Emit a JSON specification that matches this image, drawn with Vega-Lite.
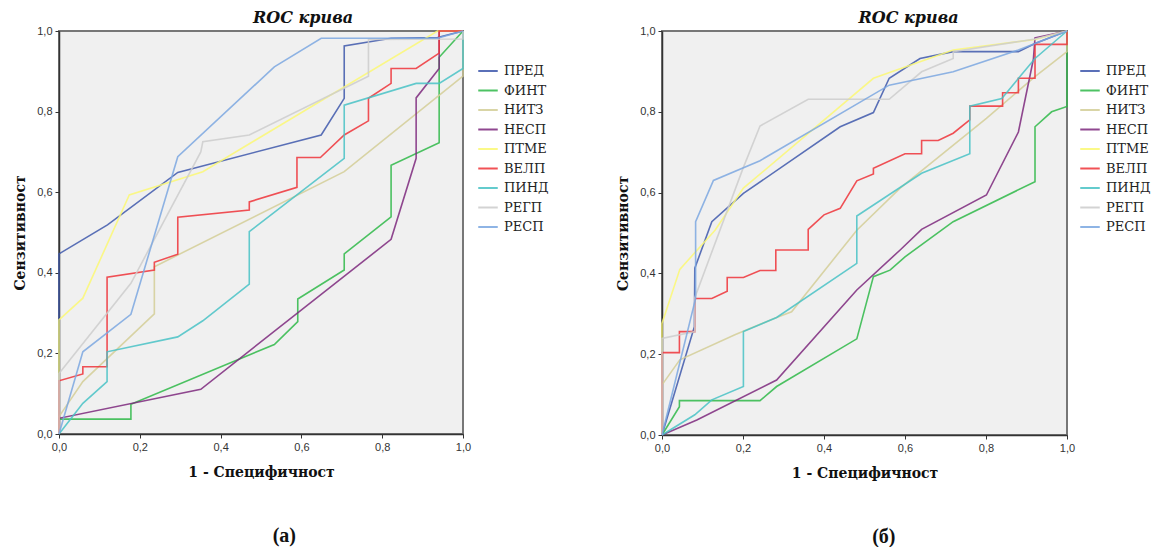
{
  "$schema": "https://vega.github.io/schema/vega-lite/v6.json",
  "padding": {"left": 12, "top": 9, "right": 0, "bottom": 0},
  "datasets": {
    "a": [
      {"s": "ПРЕД", "x": 0, "y": 0}, {"s": "ПРЕД", "x": 0, "y": 0.447}, {"s": "ПРЕД", "x": 0.12, "y": 0.519}, {"s": "ПРЕД", "x": 0.294, "y": 0.649}, {"s": "ПРЕД", "x": 0.649, "y": 0.742}, {"s": "ПРЕД", "x": 0.706, "y": 0.833}, {"s": "ПРЕД", "x": 0.706, "y": 0.963}, {"s": "ПРЕД", "x": 0.822, "y": 0.982}, {"s": "ПРЕД", "x": 0.937, "y": 0.984}, {"s": "ПРЕД", "x": 1, "y": 1},
      {"s": "ФИНТ", "x": 0, "y": 0}, {"s": "ФИНТ", "x": 0, "y": 0.037}, {"s": "ФИНТ", "x": 0.178, "y": 0.037}, {"s": "ФИНТ", "x": 0.178, "y": 0.074}, {"s": "ФИНТ", "x": 0.533, "y": 0.222}, {"s": "ФИНТ", "x": 0.591, "y": 0.279}, {"s": "ФИНТ", "x": 0.591, "y": 0.335}, {"s": "ФИНТ", "x": 0.706, "y": 0.407}, {"s": "ФИНТ", "x": 0.706, "y": 0.447}, {"s": "ФИНТ", "x": 0.822, "y": 0.539}, {"s": "ФИНТ", "x": 0.822, "y": 0.667}, {"s": "ФИНТ", "x": 0.941, "y": 0.723}, {"s": "ФИНТ", "x": 0.941, "y": 0.935}, {"s": "ФИНТ", "x": 1, "y": 1},
      {"s": "НИТЗ", "x": 0, "y": 0}, {"s": "НИТЗ", "x": 0, "y": 0.043}, {"s": "НИТЗ", "x": 0.059, "y": 0.13}, {"s": "НИТЗ", "x": 0.236, "y": 0.298}, {"s": "НИТЗ", "x": 0.236, "y": 0.415}, {"s": "НИТЗ", "x": 0.706, "y": 0.651}, {"s": "НИТЗ", "x": 1, "y": 0.888}, {"s": "НИТЗ", "x": 1, "y": 1},
      {"s": "НЕСП", "x": 0, "y": 0}, {"s": "НЕСП", "x": 0, "y": 0.039}, {"s": "НЕСП", "x": 0.351, "y": 0.111}, {"s": "НЕСП", "x": 0.822, "y": 0.483}, {"s": "НЕСП", "x": 0.884, "y": 0.684}, {"s": "НЕСП", "x": 0.884, "y": 0.834}, {"s": "НЕСП", "x": 0.941, "y": 0.907}, {"s": "НЕСП", "x": 0.941, "y": 1}, {"s": "НЕСП", "x": 1, "y": 1},
      {"s": "ПТМЕ", "x": 0, "y": 0}, {"s": "ПТМЕ", "x": 0, "y": 0.283}, {"s": "ПТМЕ", "x": 0.059, "y": 0.337}, {"s": "ПТМЕ", "x": 0.174, "y": 0.593}, {"s": "ПТМЕ", "x": 0.356, "y": 0.651}, {"s": "ПТМЕ", "x": 0.937, "y": 1}, {"s": "ПТМЕ", "x": 1, "y": 1},
      {"s": "ВЕЛП", "x": 0, "y": 0}, {"s": "ВЕЛП", "x": 0, "y": 0.132}, {"s": "ВЕЛП", "x": 0.059, "y": 0.149}, {"s": "ВЕЛП", "x": 0.059, "y": 0.167}, {"s": "ВЕЛП", "x": 0.119, "y": 0.167}, {"s": "ВЕЛП", "x": 0.119, "y": 0.389}, {"s": "ВЕЛП", "x": 0.236, "y": 0.407}, {"s": "ВЕЛП", "x": 0.236, "y": 0.426}, {"s": "ВЕЛП", "x": 0.294, "y": 0.446}, {"s": "ВЕЛП", "x": 0.294, "y": 0.538}, {"s": "ВЕЛП", "x": 0.471, "y": 0.556}, {"s": "ВЕЛП", "x": 0.471, "y": 0.576}, {"s": "ВЕЛП", "x": 0.589, "y": 0.612}, {"s": "ВЕЛП", "x": 0.589, "y": 0.686}, {"s": "ВЕЛП", "x": 0.647, "y": 0.686}, {"s": "ВЕЛП", "x": 0.706, "y": 0.742}, {"s": "ВЕЛП", "x": 0.766, "y": 0.777}, {"s": "ВЕЛП", "x": 0.766, "y": 0.833}, {"s": "ВЕЛП", "x": 0.822, "y": 0.87}, {"s": "ВЕЛП", "x": 0.822, "y": 0.907}, {"s": "ВЕЛП", "x": 0.884, "y": 0.907}, {"s": "ВЕЛП", "x": 0.941, "y": 0.945}, {"s": "ВЕЛП", "x": 0.941, "y": 1}, {"s": "ВЕЛП", "x": 1, "y": 1},
      {"s": "ПИНД", "x": 0, "y": 0}, {"s": "ПИНД", "x": 0.059, "y": 0.076}, {"s": "ПИНД", "x": 0.119, "y": 0.13}, {"s": "ПИНД", "x": 0.119, "y": 0.204}, {"s": "ПИНД", "x": 0.294, "y": 0.241}, {"s": "ПИНД", "x": 0.356, "y": 0.281}, {"s": "ПИНД", "x": 0.471, "y": 0.372}, {"s": "ПИНД", "x": 0.471, "y": 0.502}, {"s": "ПИНД", "x": 0.706, "y": 0.684}, {"s": "ПИНД", "x": 0.706, "y": 0.816}, {"s": "ПИНД", "x": 0.884, "y": 0.87}, {"s": "ПИНД", "x": 0.941, "y": 0.87}, {"s": "ПИНД", "x": 1, "y": 0.907}, {"s": "ПИНД", "x": 1, "y": 1},
      {"s": "РЕГП", "x": 0, "y": 0}, {"s": "РЕГП", "x": 0, "y": 0.15}, {"s": "РЕГП", "x": 0.178, "y": 0.374}, {"s": "РЕГП", "x": 0.351, "y": 0.7}, {"s": "РЕГП", "x": 0.356, "y": 0.725}, {"s": "РЕГП", "x": 0.471, "y": 0.742}, {"s": "РЕГП", "x": 0.766, "y": 0.888}, {"s": "РЕГП", "x": 0.766, "y": 0.979}, {"s": "РЕГП", "x": 1, "y": 0.98}, {"s": "РЕГП", "x": 1, "y": 1},
      {"s": "РЕСП", "x": 0, "y": 0}, {"s": "РЕСП", "x": 0.059, "y": 0.204}, {"s": "РЕСП", "x": 0.178, "y": 0.297}, {"s": "РЕСП", "x": 0.294, "y": 0.688}, {"s": "РЕСП", "x": 0.533, "y": 0.911}, {"s": "РЕСП", "x": 0.649, "y": 0.982}, {"s": "РЕСП", "x": 0.937, "y": 0.982}, {"s": "РЕСП", "x": 1, "y": 1}
    ],
    "b": [
      {"s": "ПРЕД", "x": 0, "y": 0}, {"s": "ПРЕД", "x": 0.08, "y": 0.268}, {"s": "ПРЕД", "x": 0.081, "y": 0.413}, {"s": "ПРЕД", "x": 0.123, "y": 0.528}, {"s": "ПРЕД", "x": 0.201, "y": 0.598}, {"s": "ПРЕД", "x": 0.44, "y": 0.763}, {"s": "ПРЕД", "x": 0.522, "y": 0.798}, {"s": "ПРЕД", "x": 0.561, "y": 0.883}, {"s": "ПРЕД", "x": 0.637, "y": 0.932}, {"s": "ПРЕД", "x": 0.719, "y": 0.949}, {"s": "ПРЕД", "x": 0.88, "y": 0.949}, {"s": "ПРЕД", "x": 0.921, "y": 0.969}, {"s": "ПРЕД", "x": 1, "y": 1},
      {"s": "ФИНТ", "x": 0, "y": 0}, {"s": "ФИНТ", "x": 0.043, "y": 0.07}, {"s": "ФИНТ", "x": 0.043, "y": 0.085}, {"s": "ФИНТ", "x": 0.242, "y": 0.085}, {"s": "ФИНТ", "x": 0.283, "y": 0.12}, {"s": "ФИНТ", "x": 0.481, "y": 0.238}, {"s": "ФИНТ", "x": 0.522, "y": 0.392}, {"s": "ФИНТ", "x": 0.563, "y": 0.408}, {"s": "ФИНТ", "x": 0.6, "y": 0.441}, {"s": "ФИНТ", "x": 0.719, "y": 0.528}, {"s": "ФИНТ", "x": 0.921, "y": 0.627}, {"s": "ФИНТ", "x": 0.921, "y": 0.763}, {"s": "ФИНТ", "x": 0.962, "y": 0.8}, {"s": "ФИНТ", "x": 1, "y": 0.813}, {"s": "ФИНТ", "x": 1, "y": 1},
      {"s": "НИТЗ", "x": 0, "y": 0}, {"s": "НИТЗ", "x": 0, "y": 0.124}, {"s": "НИТЗ", "x": 0.044, "y": 0.186}, {"s": "НИТЗ", "x": 0.18, "y": 0.248}, {"s": "НИТЗ", "x": 0.283, "y": 0.291}, {"s": "НИТЗ", "x": 0.32, "y": 0.305}, {"s": "НИТЗ", "x": 0.481, "y": 0.507}, {"s": "НИТЗ", "x": 0.588, "y": 0.611}, {"s": "НИТЗ", "x": 0.801, "y": 0.784}, {"s": "НИТЗ", "x": 0.921, "y": 0.887}, {"s": "НИТЗ", "x": 1, "y": 0.949}, {"s": "НИТЗ", "x": 1, "y": 1},
      {"s": "НЕСП", "x": 0, "y": 0}, {"s": "НЕСП", "x": 0.086, "y": 0.037}, {"s": "НЕСП", "x": 0.283, "y": 0.136}, {"s": "НЕСП", "x": 0.481, "y": 0.359}, {"s": "НЕСП", "x": 0.588, "y": 0.458}, {"s": "НЕСП", "x": 0.641, "y": 0.509}, {"s": "НЕСП", "x": 0.801, "y": 0.594}, {"s": "НЕСП", "x": 0.88, "y": 0.75}, {"s": "НЕСП", "x": 0.917, "y": 0.93}, {"s": "НЕСП", "x": 0.921, "y": 0.983}, {"s": "НЕСП", "x": 1, "y": 1},
      {"s": "ПТМЕ", "x": 0, "y": 0}, {"s": "ПТМЕ", "x": 0, "y": 0.276}, {"s": "ПТМЕ", "x": 0.044, "y": 0.41}, {"s": "ПТМЕ", "x": 0.131, "y": 0.507}, {"s": "ПТМЕ", "x": 0.201, "y": 0.611}, {"s": "ПТМЕ", "x": 0.522, "y": 0.883}, {"s": "ПТМЕ", "x": 0.637, "y": 0.924}, {"s": "ПТМЕ", "x": 0.719, "y": 0.953}, {"s": "ПТМЕ", "x": 0.921, "y": 0.979}, {"s": "ПТМЕ", "x": 1, "y": 1},
      {"s": "ВЕЛП", "x": 0, "y": 0}, {"s": "ВЕЛП", "x": 0, "y": 0.204}, {"s": "ВЕЛП", "x": 0.043, "y": 0.204}, {"s": "ВЕЛП", "x": 0.043, "y": 0.256}, {"s": "ВЕЛП", "x": 0.081, "y": 0.256}, {"s": "ВЕЛП", "x": 0.081, "y": 0.338}, {"s": "ВЕЛП", "x": 0.123, "y": 0.338}, {"s": "ВЕЛП", "x": 0.161, "y": 0.356}, {"s": "ВЕЛП", "x": 0.161, "y": 0.39}, {"s": "ВЕЛП", "x": 0.201, "y": 0.39}, {"s": "ВЕЛП", "x": 0.242, "y": 0.407}, {"s": "ВЕЛП", "x": 0.281, "y": 0.407}, {"s": "ВЕЛП", "x": 0.281, "y": 0.458}, {"s": "ВЕЛП", "x": 0.361, "y": 0.458}, {"s": "ВЕЛП", "x": 0.361, "y": 0.509}, {"s": "ВЕЛП", "x": 0.4, "y": 0.545}, {"s": "ВЕЛП", "x": 0.44, "y": 0.561}, {"s": "ВЕЛП", "x": 0.481, "y": 0.629}, {"s": "ВЕЛП", "x": 0.522, "y": 0.646}, {"s": "ВЕЛП", "x": 0.522, "y": 0.66}, {"s": "ВЕЛП", "x": 0.6, "y": 0.696}, {"s": "ВЕЛП", "x": 0.641, "y": 0.696}, {"s": "ВЕЛП", "x": 0.641, "y": 0.729}, {"s": "ВЕЛП", "x": 0.682, "y": 0.729}, {"s": "ВЕЛП", "x": 0.719, "y": 0.747}, {"s": "ВЕЛП", "x": 0.76, "y": 0.78}, {"s": "ВЕЛП", "x": 0.76, "y": 0.814}, {"s": "ВЕЛП", "x": 0.841, "y": 0.814}, {"s": "ВЕЛП", "x": 0.841, "y": 0.847}, {"s": "ВЕЛП", "x": 0.88, "y": 0.847}, {"s": "ВЕЛП", "x": 0.88, "y": 0.883}, {"s": "ВЕЛП", "x": 0.921, "y": 0.883}, {"s": "ВЕЛП", "x": 0.921, "y": 0.967}, {"s": "ВЕЛП", "x": 1, "y": 0.967}, {"s": "ВЕЛП", "x": 1, "y": 1},
      {"s": "ПИНД", "x": 0, "y": 0}, {"s": "ПИНД", "x": 0.081, "y": 0.05}, {"s": "ПИНД", "x": 0.123, "y": 0.087}, {"s": "ПИНД", "x": 0.201, "y": 0.12}, {"s": "ПИНД", "x": 0.201, "y": 0.256}, {"s": "ПИНД", "x": 0.283, "y": 0.291}, {"s": "ПИНД", "x": 0.481, "y": 0.425}, {"s": "ПИНД", "x": 0.481, "y": 0.542}, {"s": "ПИНД", "x": 0.641, "y": 0.648}, {"s": "ПИНД", "x": 0.76, "y": 0.696}, {"s": "ПИНД", "x": 0.76, "y": 0.814}, {"s": "ПИНД", "x": 0.839, "y": 0.833}, {"s": "ПИНД", "x": 0.921, "y": 0.932}, {"s": "ПИНД", "x": 1, "y": 1},
      {"s": "РЕГП", "x": 0, "y": 0}, {"s": "РЕГП", "x": 0, "y": 0.239}, {"s": "РЕГП", "x": 0.081, "y": 0.256}, {"s": "РЕГП", "x": 0.081, "y": 0.34}, {"s": "РЕГП", "x": 0.2, "y": 0.66}, {"s": "РЕГП", "x": 0.242, "y": 0.765}, {"s": "РЕГП", "x": 0.361, "y": 0.831}, {"s": "РЕГП", "x": 0.561, "y": 0.831}, {"s": "РЕГП", "x": 0.641, "y": 0.899}, {"s": "РЕГП", "x": 0.719, "y": 0.932}, {"s": "РЕГП", "x": 0.719, "y": 0.949}, {"s": "РЕГП", "x": 0.921, "y": 0.98}, {"s": "РЕГП", "x": 1, "y": 1},
      {"s": "РЕСП", "x": 0, "y": 0}, {"s": "РЕСП", "x": 0.083, "y": 0.338}, {"s": "РЕСП", "x": 0.083, "y": 0.528}, {"s": "РЕСП", "x": 0.127, "y": 0.63}, {"s": "РЕСП", "x": 0.242, "y": 0.679}, {"s": "РЕСП", "x": 0.561, "y": 0.866}, {"s": "РЕСП", "x": 0.719, "y": 0.899}, {"s": "РЕСП", "x": 0.88, "y": 0.953}, {"s": "РЕСП", "x": 1, "y": 1}
    ]
  },
  "spacing": 65,
  "resolve": {"scale": {"color": "independent"}, "legend": {"color": "independent"}},
  "hconcat": [
    {
      "title": {"text": "(а)", "orient": "bottom", "anchor": "middle", "font": "Liberation Serif", "fontWeight": "bold", "fontSize": 20, "color": "#111", "offset": 46, "dx": 3},
      "resolve": {"scale": {"color": "independent"}, "legend": {"color": "independent"}},
      "vconcat": [
        {
          "title": {"text": "ROC крива", "font": "DejaVu Serif", "fontStyle": "italic", "fontWeight": "bold", "fontSize": 16, "color": "#111", "anchor": "middle", "frame": "group", "dx": 42, "offset": -1},
          "width": 404,
          "height": 403,
          "data": {"name": "a"},
          "mark": {"type": "line", "strokeWidth": 1.6, "opacity": 0.85},
          "encoding": {
            "x": {"field": "x", "type": "quantitative", "scale": {"domain": [0, 1], "nice": false}, "axis": {"title": "1 - Специфичност", "values": [0, 0.2, 0.4, 0.6, 0.8, 1]}},
            "y": {"field": "y", "type": "quantitative", "scale": {"domain": [0, 1], "nice": false}, "axis": {"title": "Сензитивност", "values": [0, 0.2, 0.4, 0.6, 0.8, 1]}},
            "color": {"field": "s", "type": "nominal", "scale": {"domain": ["ПРЕД", "ФИНТ", "НИТЗ", "НЕСП", "ПТМЕ", "ВЕЛП", "ПИНД", "РЕГП", "РЕСП"], "range": ["#3e58ac", "#2eb848", "#d3ce97", "#7c287d", "#fbf873", "#ef3338", "#48c2c5", "#cccccc", "#7ba7e1"]}, "legend": {"title": null, "orient": "none", "legendX": 418, "legendY": 29}},
            "order": {"value": null}
          }
        }
      ]
    },
    {
      "title": {"text": "(б)", "orient": "bottom", "anchor": "middle", "font": "Liberation Serif", "fontWeight": "bold", "fontSize": 20, "color": "#111", "offset": 46, "dx": 0},
      "resolve": {"scale": {"color": "independent"}, "legend": {"color": "independent"}},
      "vconcat": [
        {
          "title": {"text": "ROC крива", "font": "DejaVu Serif", "fontStyle": "italic", "fontWeight": "bold", "fontSize": 16, "color": "#111", "anchor": "middle", "frame": "group", "dx": 44, "offset": -1},
          "width": 405,
          "height": 404,
          "data": {"name": "b"},
          "mark": {"type": "line", "strokeWidth": 1.6, "opacity": 0.85},
          "encoding": {
            "x": {"field": "x", "type": "quantitative", "scale": {"domain": [0, 1], "nice": false}, "axis": {"title": "1 - Специфичност", "values": [0, 0.2, 0.4, 0.6, 0.8, 1]}},
            "y": {"field": "y", "type": "quantitative", "scale": {"domain": [0, 1], "nice": false}, "axis": {"title": "Сензитивност", "values": [0, 0.2, 0.4, 0.6, 0.8, 1]}},
            "color": {"field": "s", "type": "nominal", "scale": {"domain": ["ПРЕД", "ФИНТ", "НИТЗ", "НЕСП", "ПТМЕ", "ВЕЛП", "ПИНД", "РЕГП", "РЕСП"], "range": ["#3e58ac", "#2eb848", "#d3ce97", "#7c287d", "#fbf873", "#ef3338", "#48c2c5", "#cccccc", "#7ba7e1"]}, "legend": {"title": null, "orient": "none", "legendX": 417, "legendY": 29}},
            "order": {"value": null}
          }
        }
      ]
    }
  ],
  "config": {
    "view": {"fill": "#f0f0f0", "stroke": "#777777", "strokeWidth": 2},
    "axis": {
      "grid": false,
      "domainColor": "#333333",
      "domainWidth": 1.5,
      "tickColor": "#333333",
      "tickSize": 4,
      "tickWidth": 1,
      "labelFont": "Liberation Sans",
      "labelFontSize": 11,
      "labelColor": "#333333",
      "labelExpr": "replace(format(datum.value, '.1f'), '.', ',')",
      "titleFont": "DejaVu Serif",
      "titleFontWeight": "bold",
      "titleFontSize": 14,
      "titleColor": "#111111"
    },
    "axisX": {"labelPadding": 3, "titlePadding": 13, "labelFlush": false},
    "axisY": {"labelPadding": 3, "titlePadding": 9, "labelFlush": false},
    "legend": {
      "symbolType": "stroke",
      "symbolStrokeWidth": 2,
      "symbolSize": 380,
      "symbolOpacity": 0.85,
      "labelFont": "DejaVu Serif",
      "labelFontSize": 13,
      "labelColor": "#222222",
      "labelOffset": 5,
      "rowPadding": 1.5,
      "padding": 0
    }
  }
}
